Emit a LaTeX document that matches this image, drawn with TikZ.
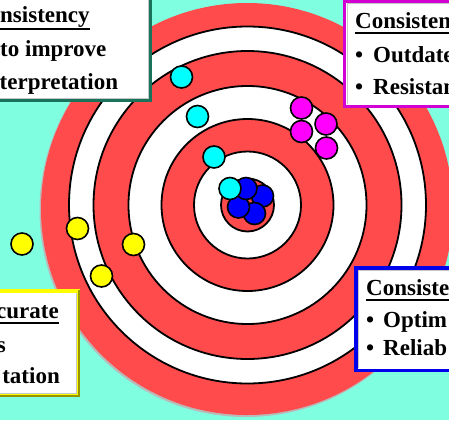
\documentclass[tikz,border=0pt]{standalone}
\usepackage{fontspec}
\setmainfont{Liberation Serif}
\definecolor{bg}{RGB}{128,255,224}
\definecolor{tred}{RGB}{255,75,75}
\definecolor{teal1}{RGB}{25,115,90}
\definecolor{mag1}{RGB}{210,0,210}
\definecolor{blu1}{RGB}{0,0,235}
\definecolor{yel1}{RGB}{255,255,0}
\definecolor{oli1}{RGB}{150,150,0}
\definecolor{dotcyan}{RGB}{0,255,255}
\definecolor{dotmag}{RGB}{255,0,255}
\definecolor{dotblue}{RGB}{0,0,255}
\begin{document}
\begin{tikzpicture}[x=1pt,y=-1pt]
\tikzset{
  ring/.style={draw=black, line width=1.8pt},
  dot/.style={draw=black, line width=1.6pt},
  txt/.style={inner sep=0pt, font=\fontsize{23}{28}\selectfont\bfseries},
  ul/.style={line width=2pt},
  box/.style={fill=white, line width=3.2pt},
  bev/.style={draw=gray!45, line width=1pt},
}
\useasboundingbox (0,0) rectangle (449,420);
\clip (0,0) rectangle (449,420);
\fill[bg] (0,0) rectangle (449,420);
% target
\fill[gray!55] (246,210.5) circle[radius=206.5pt];
\fill[tred] (247,209) circle[radius=206pt];
\foreach \r/\c in {178.5/white,154/tred,119/white,86/tred,53.5/white,26.5/tred}
  \filldraw[ring, fill=\c] (247.5,205) circle[radius=\r pt];
% dots
\foreach \p in {(301.5,108),(301.5,131.5),(326,124),(326.5,148)}
  \filldraw[dot, fill=dotmag] \p circle[radius=11pt];
\foreach \p in {(22,244),(77.5,228.5),(133.5,244.5),(101.5,276)}
  \filldraw[dot, fill=yel1] \p circle[radius=11pt];
\foreach \p in {(262.5,196),(254.5,213.5),(238.5,207),(246,188.5)}
  \filldraw[dot, fill=dotblue] \p circle[radius=11pt];
\foreach \p in {(181.5,77),(197.5,116.5),(214,157),(230,188.5)}
  \filldraw[dot, fill=dotcyan] \p circle[radius=11pt];
% box 1 (top left)
\filldraw[box, draw=teal1] (-5,-5) rectangle (150.5,100.5);
\draw[bev] (-5,98) -- (148,98) -- (148,-5);
\node[txt, anchor=base west] (a1) at (0,23) {nsistency};
\node[txt, anchor=base west] (a2) at (0,56.5) {to improve};
\node[txt, anchor=base west] (a3) at (-0.5,89.5) {terpretation};
\draw[ul] ([yshift=-6pt]a1.base west) -- ([yshift=-6pt]a1.base east);
% box 2 (top right)
\filldraw[box, draw=mag1] (344.5,1.5) rectangle (455,106.5);
\draw[bev] (347,104) -- (347,4) -- (455,4);
\node[txt, anchor=base west] (b1) at (355,29) {Consisten};
\node[txt, anchor=base west] (b2d) at (355,62.5) {•};
\node[txt, anchor=base west] (b2) at (373,62.5) {Outdate};
\node[txt, anchor=base west] (b3d) at (355,94.5) {•};
\node[txt, anchor=base west] (b3) at (373,94.5) {Resistan};
\draw[ul] ([yshift=-4pt]b1.base west) -- ([yshift=-4pt]b1.base east);
% box 3 (bottom left)
\filldraw[box, draw=yel1] (-5,291) rectangle (78.5,395.5);
\draw[oli1, line width=2.2pt] (79,289.5) -- (79,396) -- (-5,396);
\draw[bev] (-5,393) -- (76,393) -- (76,293);
\node[txt, anchor=base east] (c1) at (59,318) {curate};
\node[txt, anchor=base east] (c2) at (6,352) {s};
\node[txt, anchor=base east] (c3) at (60,383) {tation};
\draw[ul] ([yshift=-4.5pt]c1.base west) -- ([yshift=-4.5pt]c1.base east);
% box 4 (bottom right)
\filldraw[box, draw=blu1] (356,268) rectangle (455,370.5);
\draw[bev] (358.5,368) -- (358.5,270.5) -- (455,270.5);
\node[txt, anchor=base west] (d1) at (366,295.5) {Consiste};
\node[txt, anchor=base west] (d2d) at (366,327) {•};
\node[txt, anchor=base west] (d2) at (383,327) {Optim};
\node[txt, anchor=base west] (d3d) at (366,355.5) {•};
\node[txt, anchor=base west] (d3) at (383,355.5) {Reliab};
\draw[ul] ([yshift=-4.5pt]d1.base west) -- ([yshift=-4.5pt]d1.base east);
\end{tikzpicture}
\end{document}
